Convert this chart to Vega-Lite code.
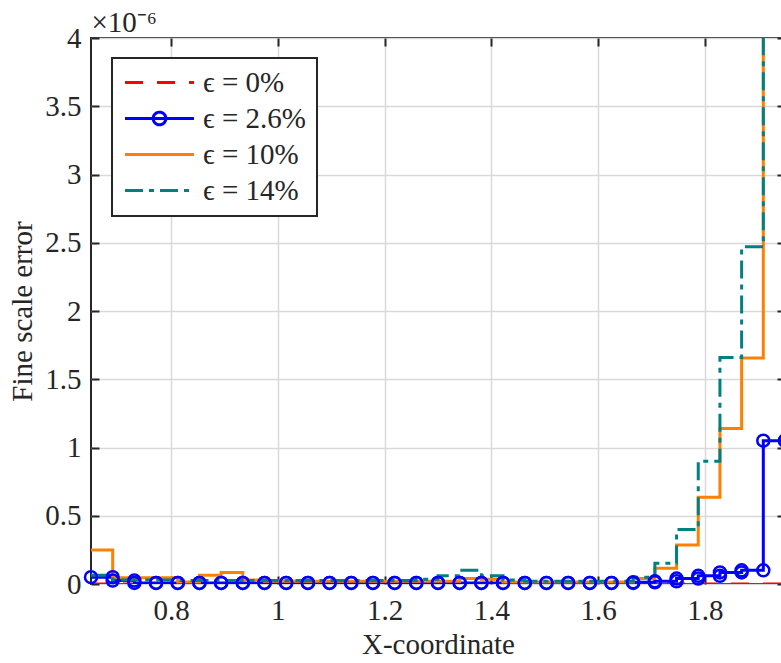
{
  "$schema": "https://vega.github.io/schema/vega-lite/v6.json",
  "width": 694,
  "height": 546,
  "autosize": {"type": "none"},
  "padding": {"left": 91, "top": 38, "right": 0, "bottom": 79},
  "background": "white",
  "config": {
    "view": {"stroke": "#262626", "strokeWidth": 2},
    "font": "Liberation Serif",
    "axis": {
      "labelFont": "Liberation Serif", "labelFontSize": 29, "labelColor": "#262626",
      "titleFont": "Liberation Serif", "titleFontSize": 29, "titleFontWeight": "normal", "titleColor": "#262626",
      "domain": false, "grid": true, "gridColor": "#d9d9d9", "gridWidth": 1.5,
      "tickColor": "#262626", "tickWidth": 2, "tickSize": -8
    },
    "legend": {
      "orient": "none", "legendX": 21, "legendY": 20,
      "padding": 10, "strokeColor": "#262626", "strokeWidth": 2, "fillColor": "white",
      "labelFont": "Liberation Serif", "labelFontSize": 29, "labelColor": "#262626",
      "symbolType": "M-1,0H5", "symbolSize": 529, "symbolStrokeWidth": 3,
      "labelOffset": 52, "rowPadding": 6, "title": null
    }
  },
  "data": {"values": [
    {"series": "ϵ = 0%", "x": 0.65, "y": 0}, {"series": "ϵ = 0%", "x": 0.690625, "y": 0}, {"series": "ϵ = 0%", "x": 0.73125, "y": 0}, {"series": "ϵ = 0%", "x": 0.771875, "y": 0}, {"series": "ϵ = 0%", "x": 0.8125, "y": 0}, {"series": "ϵ = 0%", "x": 0.853125, "y": 0}, {"series": "ϵ = 0%", "x": 0.89375, "y": 0}, {"series": "ϵ = 0%", "x": 0.934375, "y": 0}, {"series": "ϵ = 0%", "x": 0.975, "y": 0}, {"series": "ϵ = 0%", "x": 1.015625, "y": 0}, {"series": "ϵ = 0%", "x": 1.05625, "y": 0}, {"series": "ϵ = 0%", "x": 1.096875, "y": 0}, {"series": "ϵ = 0%", "x": 1.1375, "y": 0}, {"series": "ϵ = 0%", "x": 1.178125, "y": 0}, {"series": "ϵ = 0%", "x": 1.21875, "y": 0}, {"series": "ϵ = 0%", "x": 1.259375, "y": 0}, {"series": "ϵ = 0%", "x": 1.3, "y": 0}, {"series": "ϵ = 0%", "x": 1.340625, "y": 0}, {"series": "ϵ = 0%", "x": 1.38125, "y": 0}, {"series": "ϵ = 0%", "x": 1.421875, "y": 0}, {"series": "ϵ = 0%", "x": 1.4625, "y": 0}, {"series": "ϵ = 0%", "x": 1.503125, "y": 0}, {"series": "ϵ = 0%", "x": 1.54375, "y": 0}, {"series": "ϵ = 0%", "x": 1.584375, "y": 0}, {"series": "ϵ = 0%", "x": 1.625, "y": 0}, {"series": "ϵ = 0%", "x": 1.665625, "y": 0}, {"series": "ϵ = 0%", "x": 1.70625, "y": 0}, {"series": "ϵ = 0%", "x": 1.746875, "y": 0}, {"series": "ϵ = 0%", "x": 1.7875, "y": 0}, {"series": "ϵ = 0%", "x": 1.828125, "y": 0}, {"series": "ϵ = 0%", "x": 1.86875, "y": 0}, {"series": "ϵ = 0%", "x": 1.909375, "y": 0}, {"series": "ϵ = 0%", "x": 1.95, "y": 0},

    {"series": "ϵ = 2.6%", "x": 0.65, "y": 0.05}, {"series": "ϵ = 2.6%", "x": 0.690625, "y": 0.025}, {"series": "ϵ = 2.6%", "x": 0.73125, "y": 0.008}, {"series": "ϵ = 2.6%", "x": 0.771875, "y": 0.008}, {"series": "ϵ = 2.6%", "x": 0.8125, "y": 0.008}, {"series": "ϵ = 2.6%", "x": 0.853125, "y": 0.008}, {"series": "ϵ = 2.6%", "x": 0.89375, "y": 0.008}, {"series": "ϵ = 2.6%", "x": 0.934375, "y": 0.008}, {"series": "ϵ = 2.6%", "x": 0.975, "y": 0.008}, {"series": "ϵ = 2.6%", "x": 1.015625, "y": 0.008}, {"series": "ϵ = 2.6%", "x": 1.05625, "y": 0.008}, {"series": "ϵ = 2.6%", "x": 1.096875, "y": 0.008}, {"series": "ϵ = 2.6%", "x": 1.1375, "y": 0.008}, {"series": "ϵ = 2.6%", "x": 1.178125, "y": 0.008}, {"series": "ϵ = 2.6%", "x": 1.21875, "y": 0.008}, {"series": "ϵ = 2.6%", "x": 1.259375, "y": 0.008}, {"series": "ϵ = 2.6%", "x": 1.3, "y": 0.008}, {"series": "ϵ = 2.6%", "x": 1.340625, "y": 0.008}, {"series": "ϵ = 2.6%", "x": 1.38125, "y": 0.008}, {"series": "ϵ = 2.6%", "x": 1.421875, "y": 0.008}, {"series": "ϵ = 2.6%", "x": 1.4625, "y": 0.008}, {"series": "ϵ = 2.6%", "x": 1.503125, "y": 0.008}, {"series": "ϵ = 2.6%", "x": 1.54375, "y": 0.008}, {"series": "ϵ = 2.6%", "x": 1.584375, "y": 0.008}, {"series": "ϵ = 2.6%", "x": 1.625, "y": 0.008}, {"series": "ϵ = 2.6%", "x": 1.665625, "y": 0.012}, {"series": "ϵ = 2.6%", "x": 1.70625, "y": 0.02}, {"series": "ϵ = 2.6%", "x": 1.746875, "y": 0.04}, {"series": "ϵ = 2.6%", "x": 1.7875, "y": 0.06}, {"series": "ϵ = 2.6%", "x": 1.828125, "y": 0.085}, {"series": "ϵ = 2.6%", "x": 1.86875, "y": 0.1}, {"series": "ϵ = 2.6%", "x": 1.909375, "y": 1.05}, {"series": "ϵ = 2.6%", "x": 1.95, "y": 1.05},

    {"series": "ϵ = 10%", "x": 0.65, "y": 0.25}, {"series": "ϵ = 10%", "x": 0.690625, "y": 0.045}, {"series": "ϵ = 10%", "x": 0.73125, "y": 0.045}, {"series": "ϵ = 10%", "x": 0.771875, "y": 0.045}, {"series": "ϵ = 10%", "x": 0.8125, "y": 0.015}, {"series": "ϵ = 10%", "x": 0.853125, "y": 0.065}, {"series": "ϵ = 10%", "x": 0.89375, "y": 0.085}, {"series": "ϵ = 10%", "x": 0.934375, "y": 0.03}, {"series": "ϵ = 10%", "x": 0.975, "y": 0.02}, {"series": "ϵ = 10%", "x": 1.015625, "y": 0.02}, {"series": "ϵ = 10%", "x": 1.05625, "y": 0.02}, {"series": "ϵ = 10%", "x": 1.096875, "y": 0.02}, {"series": "ϵ = 10%", "x": 1.1375, "y": 0.02}, {"series": "ϵ = 10%", "x": 1.178125, "y": 0.02}, {"series": "ϵ = 10%", "x": 1.21875, "y": 0.02}, {"series": "ϵ = 10%", "x": 1.259375, "y": 0.02}, {"series": "ϵ = 10%", "x": 1.3, "y": 0.02}, {"series": "ϵ = 10%", "x": 1.340625, "y": 0.04}, {"series": "ϵ = 10%", "x": 1.38125, "y": 0.035}, {"series": "ϵ = 10%", "x": 1.421875, "y": 0.015}, {"series": "ϵ = 10%", "x": 1.4625, "y": 0.015}, {"series": "ϵ = 10%", "x": 1.503125, "y": 0.015}, {"series": "ϵ = 10%", "x": 1.54375, "y": 0.015}, {"series": "ϵ = 10%", "x": 1.584375, "y": 0.015}, {"series": "ϵ = 10%", "x": 1.625, "y": 0.015}, {"series": "ϵ = 10%", "x": 1.665625, "y": 0.04}, {"series": "ϵ = 10%", "x": 1.70625, "y": 0.115}, {"series": "ϵ = 10%", "x": 1.746875, "y": 0.285}, {"series": "ϵ = 10%", "x": 1.7875, "y": 0.635}, {"series": "ϵ = 10%", "x": 1.828125, "y": 1.14}, {"series": "ϵ = 10%", "x": 1.86875, "y": 1.655}, {"series": "ϵ = 10%", "x": 1.909375, "y": 4.5}, {"series": "ϵ = 10%", "x": 1.95, "y": 4.5},

    {"series": "ϵ = 14%", "x": 0.65, "y": 0.065}, {"series": "ϵ = 14%", "x": 0.690625, "y": 0.03}, {"series": "ϵ = 14%", "x": 0.73125, "y": 0.03}, {"series": "ϵ = 14%", "x": 0.771875, "y": 0.03}, {"series": "ϵ = 14%", "x": 0.8125, "y": 0.025}, {"series": "ϵ = 14%", "x": 0.853125, "y": 0.025}, {"series": "ϵ = 14%", "x": 0.89375, "y": 0.025}, {"series": "ϵ = 14%", "x": 0.934375, "y": 0.025}, {"series": "ϵ = 14%", "x": 0.975, "y": 0.025}, {"series": "ϵ = 14%", "x": 1.015625, "y": 0.025}, {"series": "ϵ = 14%", "x": 1.05625, "y": 0.025}, {"series": "ϵ = 14%", "x": 1.096875, "y": 0.025}, {"series": "ϵ = 14%", "x": 1.1375, "y": 0.025}, {"series": "ϵ = 14%", "x": 1.178125, "y": 0.025}, {"series": "ϵ = 14%", "x": 1.21875, "y": 0.025}, {"series": "ϵ = 14%", "x": 1.259375, "y": 0.035}, {"series": "ϵ = 14%", "x": 1.3, "y": 0.06}, {"series": "ϵ = 14%", "x": 1.340625, "y": 0.1}, {"series": "ϵ = 14%", "x": 1.38125, "y": 0.06}, {"series": "ϵ = 14%", "x": 1.421875, "y": 0.03}, {"series": "ϵ = 14%", "x": 1.4625, "y": 0.02}, {"series": "ϵ = 14%", "x": 1.503125, "y": 0.02}, {"series": "ϵ = 14%", "x": 1.54375, "y": 0.02}, {"series": "ϵ = 14%", "x": 1.584375, "y": 0.02}, {"series": "ϵ = 14%", "x": 1.625, "y": 0.02}, {"series": "ϵ = 14%", "x": 1.665625, "y": 0.05}, {"series": "ϵ = 14%", "x": 1.70625, "y": 0.152}, {"series": "ϵ = 14%", "x": 1.746875, "y": 0.4}, {"series": "ϵ = 14%", "x": 1.7875, "y": 0.9}, {"series": "ϵ = 14%", "x": 1.828125, "y": 1.66}, {"series": "ϵ = 14%", "x": 1.86875, "y": 2.47}, {"series": "ϵ = 14%", "x": 1.909375, "y": 4.5}, {"series": "ϵ = 14%", "x": 1.95, "y": 4.5}
  ]},
  "layer": [
    {
      "mark": {"type": "line", "interpolate": "step-after", "strokeWidth": 3, "clip": true},
      "encoding": {
        "x": {"field": "x", "type": "quantitative", "scale": {"domain": [0.65, 1.95], "nice": false, "zero": false},
              "axis": {"orient": "bottom", "title": "X-coordinate", "values": [0.8, 1, 1.2, 1.4, 1.6, 1.8], "format": "~g", "labelPadding": 20, "titlePadding": 5}},
        "y": {"field": "y", "type": "quantitative", "scale": {"domain": [0, 4], "nice": false, "zero": false},
              "axis": {"orient": "left", "title": "Fine scale error", "values": [0, 0.5, 1, 1.5, 2, 2.5, 3, 3.5, 4], "format": "~g", "labelPadding": 18, "titlePadding": 7}},
        "color": {"field": "series", "type": "nominal",
                  "scale": {"domain": ["ϵ = 0%", "ϵ = 2.6%", "ϵ = 10%", "ϵ = 14%"], "range": ["#ff0000", "#0000ff", "#ff8000", "#008080"]},
                  "legend": {"encode": {"symbols": {"update": {
                    "shape": {"signal": "datum.value === 'ϵ = 2.6%' ? 'M-1,0H5M2.55,0A0.55,0.55,0,1,1,1.45,0A0.55,0.55,0,1,1,2.55,0' : 'M-1,0H5'"},
                    "fill": {"value": "transparent"}
                  }}}}},
        "strokeDash": {"field": "series", "type": "nominal",
                  "scale": {"domain": ["ϵ = 0%", "ϵ = 2.6%", "ϵ = 10%", "ϵ = 14%"], "range": [[18, 14], [1, 0], [1, 0], [18, 6, 5, 6]]}}
      }
    },
    {
      "transform": [{"filter": "datum.series === 'ϵ = 2.6%'"}],
      "mark": {"type": "point", "shape": "circle", "filled": false, "size": 144, "strokeWidth": 2.5, "color": "#0000ff", "opacity": 1, "clip": false},
      "encoding": {
        "x": {"field": "x", "type": "quantitative", "scale": {"domain": [0.65, 1.95], "nice": false, "zero": false}, "axis": null},
        "y": {"field": "y", "type": "quantitative", "scale": {"domain": [0, 4], "nice": false, "zero": false}, "axis": null}
      }
    },
    {
      "transform": [
        {"filter": "datum.series === 'ϵ = 2.6%'"},
        {"window": [{"op": "lag", "field": "y", "as": "yprev"}], "sort": [{"field": "x", "order": "ascending"}]},
        {"filter": "isValid(datum.yprev)"}
      ],
      "mark": {"type": "point", "shape": "circle", "filled": false, "size": 144, "strokeWidth": 2.5, "color": "#0000ff", "opacity": 1, "clip": false},
      "encoding": {
        "x": {"field": "x", "type": "quantitative", "scale": {"domain": [0.65, 1.95], "nice": false, "zero": false}, "axis": null},
        "y": {"field": "yprev", "type": "quantitative", "scale": {"domain": [0, 4], "nice": false, "zero": false}, "axis": null}
      }
    },
    {
      "mark": {"type": "point", "opacity": 0},
      "encoding": {
        "x": {"field": "x", "type": "quantitative", "scale": {"domain": [0.65, 1.95], "nice": false, "zero": false},
              "axis": {"orient": "top", "labels": false, "title": "×10⁻⁶", "titleFontSize": 29, "titleAnchor": "start", "titleAlign": "left", "titleBaseline": "alphabetic", "titleX": 0, "titleY": -7, "grid": false, "values": [0.8, 1, 1.2, 1.4, 1.6, 1.8]}},
        "y": {"field": "y", "type": "quantitative", "scale": {"domain": [0, 4], "nice": false, "zero": false},
              "axis": {"orient": "right", "labels": false, "title": null, "grid": false, "values": [0, 0.5, 1, 1.5, 2, 2.5, 3, 3.5, 4]}}
      }
    }
  ],
  "resolve": {"axis": {"x": "independent", "y": "independent"}}
}
